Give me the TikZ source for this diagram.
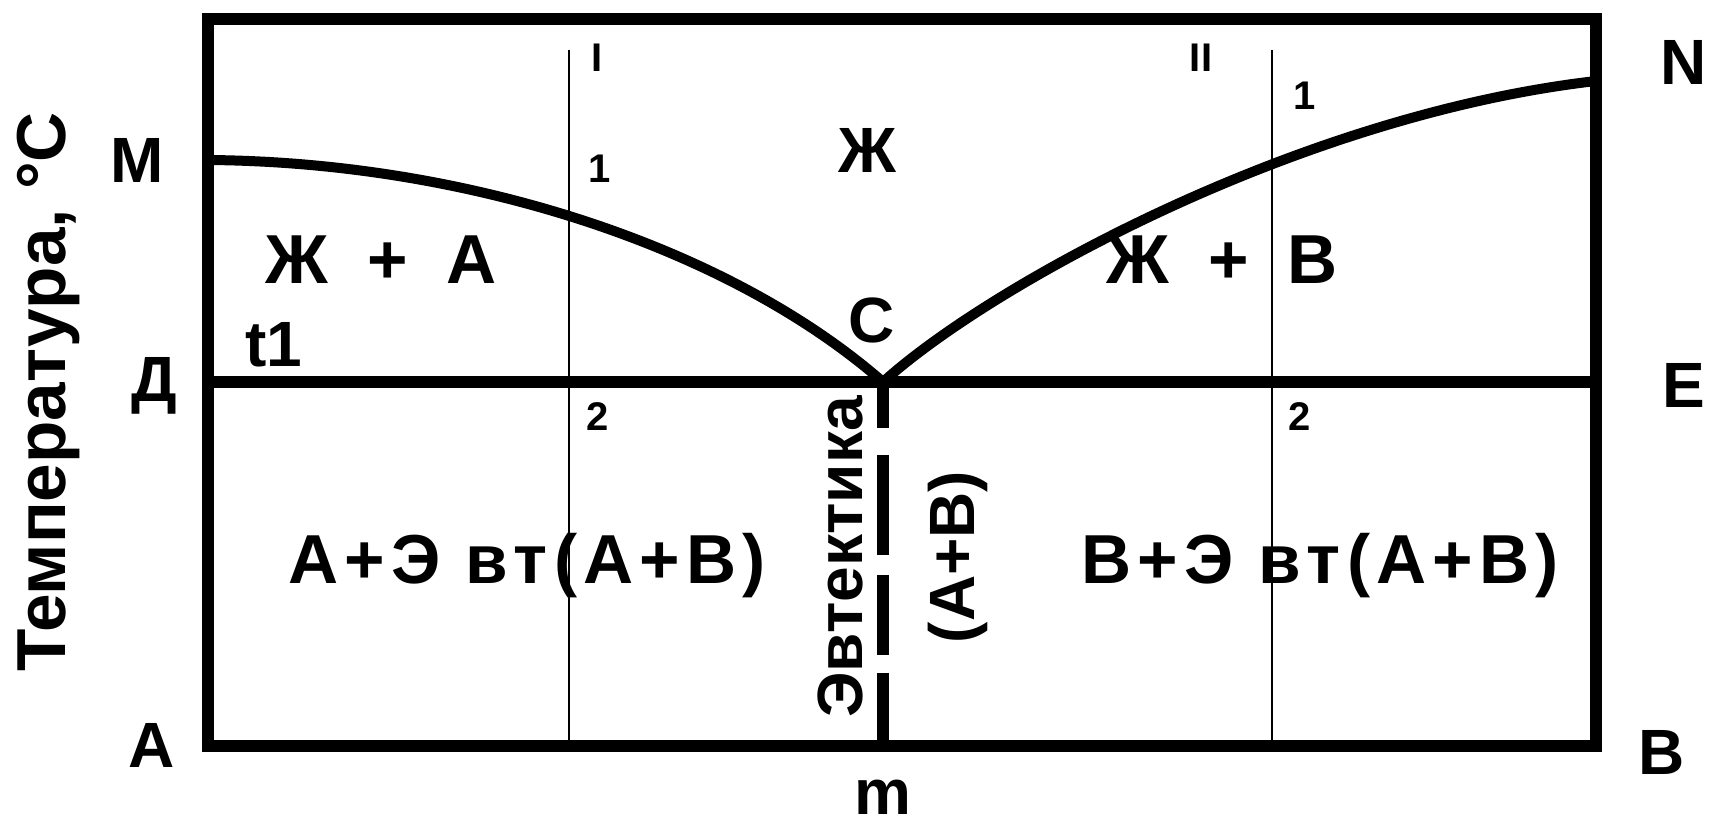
\documentclass[tikz,border=0pt]{standalone}
\usepackage{fontspec}
\setmainfont{Liberation Sans}
\usetikzlibrary{positioning,calc}

\tikzset{
	frameline/.style={line width=9.5pt, line join=miter},
	liquidus/.style={line width=7.5pt, line cap=round},
	alloyline/.style={line width=2.2pt},
	bigtext/.style={font=\fontsize{48}{52}\selectfont\bfseries, inner sep=0pt},
	regiontext/.style={font=\fontsize{52}{56}\selectfont\bfseries, inner sep=0pt},
	sidetext/.style={font=\fontsize{48}{52}\selectfont\bfseries, inner sep=0pt, rotate=90},
	smalltext/.style={font=\fontsize{30}{32}\selectfont\bfseries, inner sep=0pt},
	phasetext/.style={font=\fontsize{52}{56}\selectfont\bfseries\addfontfeature{LetterSpace=9}, inner sep=0pt, anchor=base}
}

\begin{document}
\begin{tikzpicture}[x=0.75pt,y=0.75pt,yscale=-1,xscale=1]
	\useasboundingbox (0,0) rectangle (1709,821);
	
	% corner points of the diagram
	\coordinate (pA) at (208,746);
	\coordinate (pB) at (1596,746);
	\coordinate (pTR) at (1596,19);
	\coordinate (pTL) at (208,19);
	\coordinate (pM) at (208,160);
	\coordinate (pN) at (1596,81);
	\coordinate (pD) at (208,382);
	\coordinate (pE) at (1596,382);
	\coordinate (pC) at (883,382);
	\coordinate (pm) at (883,746);
	% alloys I and II
	\coordinate (Itop) at (569,50);
	\coordinate (Ibot) at (569,746);
	\coordinate (IItop) at (1272,50);
	\coordinate (IIbot) at (1272,746);
	
	%Frame
	\draw [frameline] (pA) -- (pB) -- (pTR) -- (pTL) -- cycle;
	%Eutectic line
	\draw [frameline] (pD) -- (pE);
	%Alloy lines
	\draw [alloyline] (Itop) -- (Ibot);
	\draw [alloyline] (IItop) -- (IIbot);
	%Liquidus MC
	\draw [liquidus] (pM) .. controls (470,162) and (730,248) .. (pC);
	%Liquidus CN
	\draw [liquidus] (pC) .. controls (990,285) and (1300,115) .. (pN);
	%Eutectic composition
	\draw [line width=9.5pt, dash pattern={on 34.5pt off 20pt on 75pt off 15pt on 60pt off 13.5pt on 70pt}] (pC) -- (pm);
	
	% Text Node
	\node [bigtext] (lblM) at (137,160) {M};
	% Text Node
	\node [bigtext] (lblN) at (1684,62) {N};
	% Text Node
	\node [bigtext] (lblD) at (154,386) {Д};
	% Text Node
	\node [bigtext] (lblE) at (1684,385) {E};
	% Text Node
	\node [bigtext] (lblA) at (152,745) {A};
	% Text Node
	\node [bigtext] (lblB) at (1662,752) {B};
	% Text Node
	\node [bigtext] (lblm) at (883,797) {m};
	% Text Node
	\node [bigtext] (lblC) at (872,320) {C};
	% Text Node
	\node [bigtext] (lblt) at (274,345) {t1};
	% Text Node
	\node [bigtext] (lblZh) at (867,150) {Ж};
	% Text Node
	\node [regiontext] (lblZhA) at (381,260) {Ж\ \ +\ \ А};
	% Text Node
	\node [regiontext] (lblZhB) at (1222,260) {Ж\ \ +\ \ В};
	% Text Node
	\node [smalltext] (lblI) at (597,58) {I};
	% Text Node
	\node [smalltext] (lblII) at (1201,58) {II};
	% Text Node
	\node [smalltext] (lblI1) at (600,169) {1};
	% Text Node
	\node [smalltext] (lblII1) at (1305,96) {1};
	% Text Node
	\node [smalltext] (lblI2) at (598,417) {2};
	% Text Node
	\node [smalltext] (lblII2) at (1300,417) {2};
	% Text Node
	\node [phasetext] (lblAE) at (527,583) {А+Э вт(А+В)};
	% Text Node
	\node [phasetext] (lblBE) at (1320,583) {В+Э вт(А+В)};
	% Text Node
	\node [sidetext, anchor=base] (lblEut) at (862,557) {Эвтектика};
	% Text Node
	\node [sidetext] (lblAB) at (958,557) {(А+В)};
	% Text Node
	\node [sidetext, font=\fontsize{52}{56}\selectfont\bfseries, anchor=base] (lblT) at (65,392) {Температура, °С};
	
\end{tikzpicture}
\end{document}
